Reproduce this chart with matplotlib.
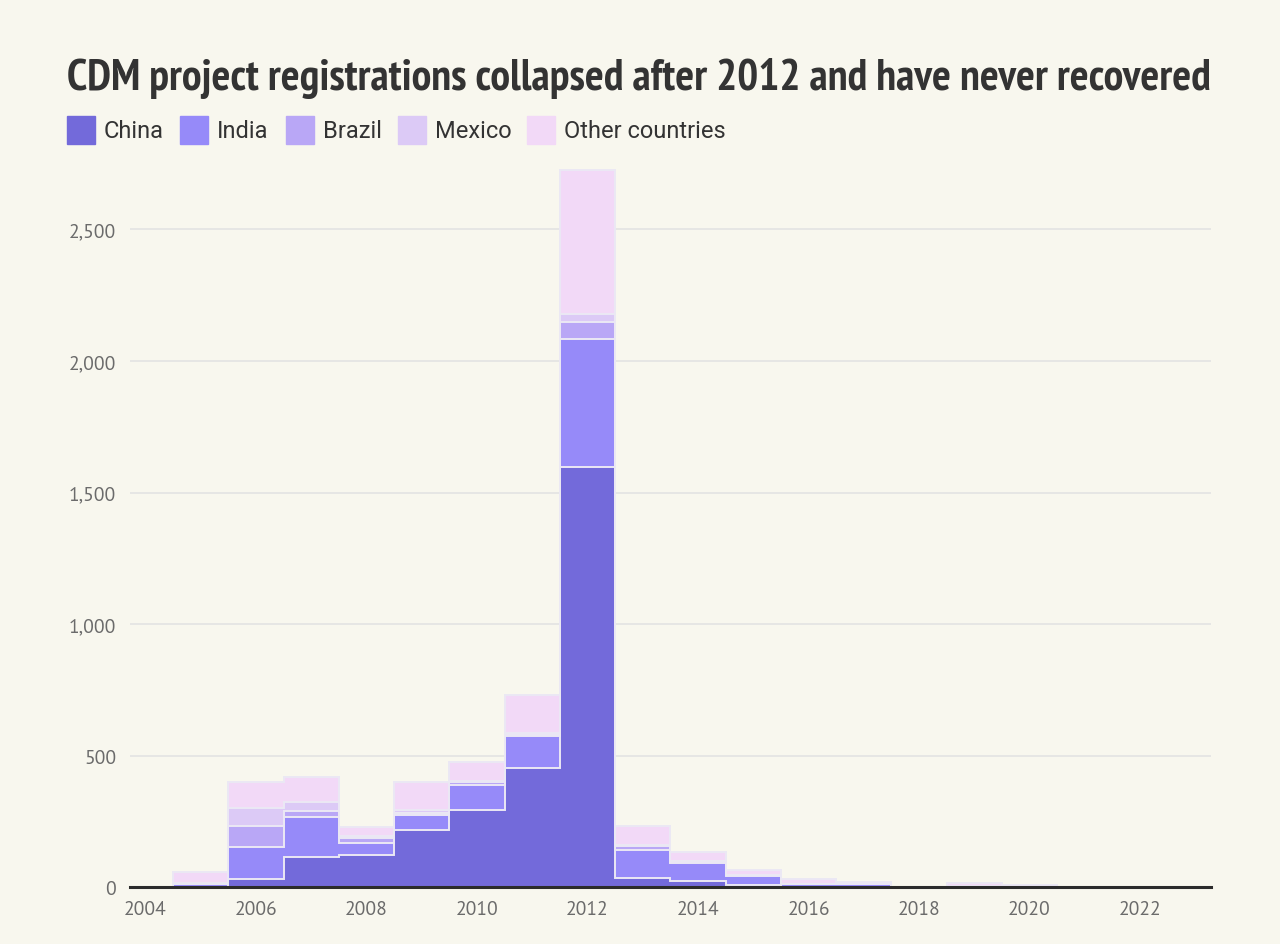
import matplotlib
matplotlib.use('Agg')
import matplotlib.pyplot as plt
from matplotlib.patches import Rectangle
from matplotlib.ticker import FuncFormatter
import numpy as np

years = list(range(2005, 2023))
china = [3, 31, 115, 123, 218, 295, 454, 1598, 36, 24, 8, 3, 3, 0, 1, 2, 0, 0]
india = [12, 124, 154, 47, 57, 94, 120, 484, 106, 68, 37, 10, 9, 0, 3, 5, 0, 0]
brazil = [0, 77, 23, 18, 8, 10, 6, 68, 14, 4, 2, 1, 0, 0, 0, 0, 0, 0]
mexico = [1, 71, 31, 9, 11, 5, 6, 27, 5, 3, 2, 1, 1, 0, 0, 0, 0, 0]
other = [44, 99, 95, 34, 108, 74, 146, 547, 71, 37, 17, 17, 9, 0, 12, 1, 0, 0]

series = ['China', 'India', 'Brazil', 'Mexico', 'Other countries']
colors = ['#736ada', '#968af9', '#b9a7f6', '#dccaf6', '#f2d9f7']
bg = '#f8f7ee'

fig = plt.figure(figsize=(12.8, 9.45), dpi=100, facecolor=bg)
ax = fig.add_axes([0.1016, 0.0598, 0.8443, 0.7652], facecolor=bg)

edges = np.array([y - 0.5 for y in years] + [years[-1] + 0.5])
bottom = np.zeros(len(years))
tops = []
for name, vals, col in zip(series, [china, india, brazil, mexico, other], colors):
    top = bottom + np.array(vals)
    ax.stairs(top, edges, baseline=bottom.copy(), fill=True, color=col, zorder=3)
    tops.append(top)
    bottom = top
# light step outlines on top of each layer
for top in tops:
    ax.stairs(top, edges, baseline=0, color='#ebe8f4', linewidth=1.4, zorder=4)

ax.set_xlim(2003.72, 2023.28)
ax.set_ylim(0, 2747)
ax.set_yticks([0, 500, 1000, 1500, 2000, 2500])
ax.yaxis.set_major_formatter(FuncFormatter(lambda v, p: f'{int(v):,}'))
ax.set_xticks(range(2004, 2023, 2))
ax.grid(axis='y', color='#e3e3e3', linewidth=1.2, zorder=0)
for s in ['top', 'right', 'left']:
    ax.spines[s].set_visible(False)
ax.spines['bottom'].set_color('#2b2b2b')
ax.spines['bottom'].set_linewidth(2.2)
ax.spines['bottom'].set_zorder(5)
ax.tick_params(axis='both', length=0, labelsize=14, labelcolor='#6b6b6b')
ax.tick_params(axis='x', pad=9)
ax.tick_params(axis='y', pad=10)
for lab in ax.get_xticklabels() + ax.get_yticklabels():
    lab.set_fontfamily(['PT Sans', 'Open Sans', 'DejaVu Sans'])

fig.text(0.052, 1 - 90 / 945, 'CDM project registrations collapsed after 2012 and have never recovered',
         fontsize=31.8, fontweight='bold', color='#333333', va='baseline',
         family=['PT Sans Narrow', 'Roboto Condensed', 'DejaVu Sans'])

# legend
leg_x = [67, 180, 286, 398, 527]
for name, col, lx in zip(series, colors, leg_x):
    fig.patches.append(Rectangle((lx / 1280, 1 - 145 / 945), 28 / 1280, 28 / 945,
                                 transform=fig.transFigure, color=col))
    fig.text((lx + 37) / 1280, 1 - 131 / 945, name, fontsize=17, color='#333333',
             va='center', family=['Roboto', 'DejaVu Sans'])

fig.savefig('out.png', dpi=100, facecolor=bg)
